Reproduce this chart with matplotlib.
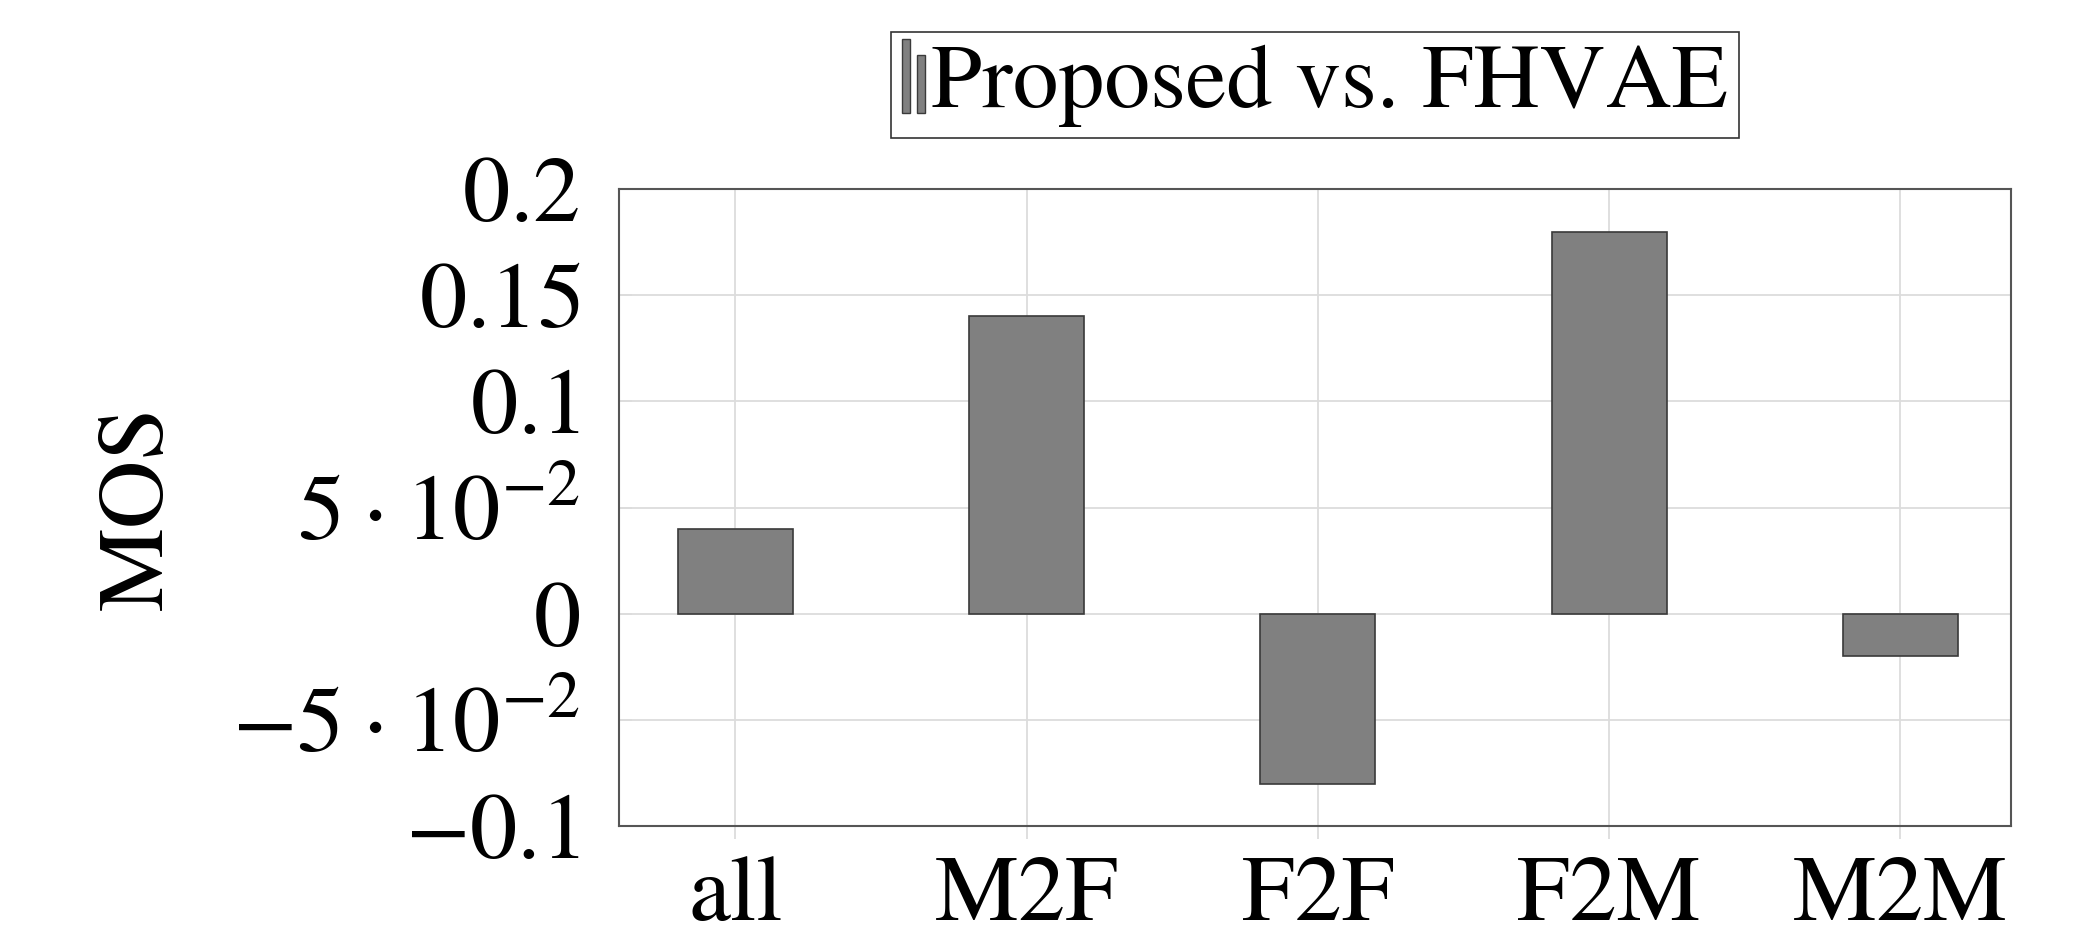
import matplotlib
matplotlib.use("Agg")
import matplotlib.pyplot as plt
from matplotlib.legend_handler import HandlerBase
from matplotlib.patches import Rectangle

# MOS difference, proposed system against FHVAE
categories = ["all", "M2F", "F2F", "F2M", "M2M"]
mos_diff = [0.04, 0.14, -0.08, 0.18, -0.02]
series_name = "Proposed vs. FHVAE"

yticks = [-0.1, -0.05, 0, 0.05, 0.1, 0.15, 0.2]
ytick_labels = [r"$-0.1$",
                r"$-5\hspace{0.05}\cdot\hspace{0.05}10^{-2}$",
                r"$0$",
                r"$5\hspace{0.05}\cdot\hspace{0.05}10^{-2}$",
                r"$0.1$", r"$0.15$", r"$0.2$"]

plt.rcParams["font.family"] = ["STIXGeneral", "Liberation Serif", "DejaVu Serif"]
plt.rcParams["mathtext.fontset"] = "stix"

BAR_COLOR = "#808080"
EDGE_COLOR = "#3a3a3a"
GRID_COLOR = "#dcdcdc"
FS = 68


class TwoBarHandler(HandlerBase):
    # pgfplots-style ybar legend image: two thin bars side by side
    def create_artists(self, legend, orig_handle, xdescent, ydescent,
                       width, height, fontsize, trans):
        w = width * 0.35
        y0 = -ydescent - 0.08 * height
        r1 = Rectangle((-xdescent, y0), w, height * 1.15,
                       facecolor=BAR_COLOR, edgecolor=EDGE_COLOR, lw=1.0,
                       transform=trans)
        r2 = Rectangle((-xdescent + width * 0.65, y0), w, height * 0.9,
                       facecolor=BAR_COLOR, edgecolor=EDGE_COLOR, lw=1.0,
                       transform=trans)
        return [r1, r2]


fig = plt.figure(figsize=(20.87, 9.38), dpi=100)
ax = fig.add_axes([0.2966, 0.1189, 0.9636 - 0.2966, 0.7985 - 0.1189])

x = list(range(len(categories)))
bars = ax.bar(x, mos_diff, width=0.395, color=BAR_COLOR, edgecolor=EDGE_COLOR,
              linewidth=1.2, zorder=3, label=series_name)

ax.set_xlim(-0.4, 4.38)
ax.set_ylim(-0.1, 0.2)
ax.set_xticks(x)
ax.set_xticklabels(categories, fontsize=FS)
ax.set_yticks(yticks)
ax.set_yticklabels(ytick_labels, fontsize=FS)

ax.grid(True, color=GRID_COLOR, linewidth=1.3, zorder=0)
ax.tick_params(axis="x", direction="out", length=9, width=1.3, color=GRID_COLOR, pad=12)
ax.tick_params(axis="y", direction="in", length=9, width=1.3, color=GRID_COLOR, pad=28)
for s in ax.spines.values():
    s.set_color("#555555")
    s.set_linewidth(1.5)

ax.set_ylabel("MOS", fontsize=FS)
ax.yaxis.set_label_coords(-0.314, 0.5)

leg = fig.legend(handles=[bars], labels=[series_name], loc="center",
                 bbox_to_anchor=(0.630, 0.909), fontsize=66, frameon=True,
                 fancybox=False, edgecolor="#333333", framealpha=1,
                 handler_map={type(bars): TwoBarHandler()},
                 handlelength=0.25, handletextpad=0.07, borderpad=0.12,
                 borderaxespad=0)
leg.get_frame().set_linewidth(1.2)

fig.savefig("out.png", dpi=100)
